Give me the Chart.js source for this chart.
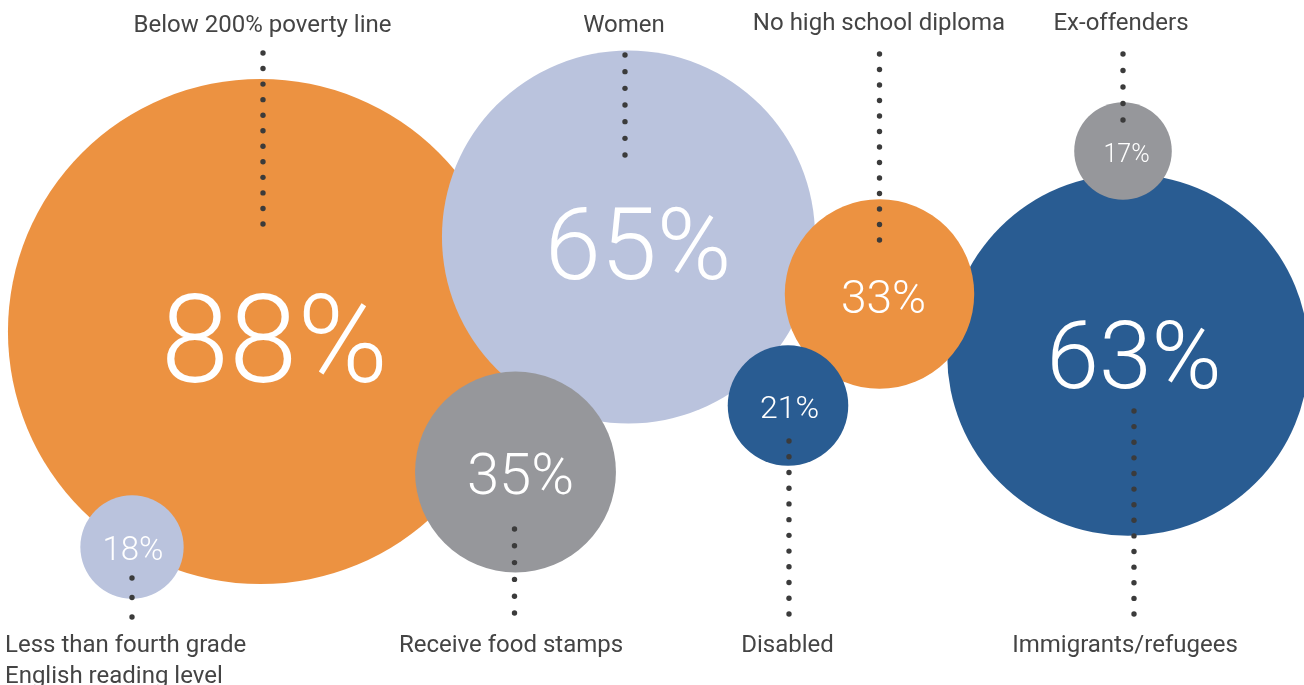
<!DOCTYPE html>
<html>
<head>
<meta charset="utf-8">
<script src="https://cdn.jsdelivr.net/npm/chart.js@4.4.1/dist/chart.umd.min.js"></script>
<style>
  html, body { margin: 0; padding: 0; background: #ffffff; }
  #wrap { width: 1304px; height: 685px; position: relative; }
</style>
</head>
<body>
<div id="wrap"><canvas id="c"></canvas></div>
<script>
// ---- data ----
const categories = [
  "Below 200% poverty line",
  "Women",
  "Receive food stamps",
  "Less than fourth grade\nEnglish reading level",
  "Immigrants/refugees",
  "No high school diploma",
  "Disabled",
  "Ex-offenders"
];
const shares = [88, 65, 35, 18, 63, 33, 21, 17];

// ---- layout (in a 1304 x 685 coordinate space) ----
const bubbleX = [260.5, 628.5, 515.5, 132, 1128, 879.5, 788, 1123];
const bubbleY = [331.5, 237, 472, 547, 355, 294, 405.5, 151];
const bubbleColors = ["#EC9241", "#BAC3DD", "#96979B", "#BAC3DD", "#295C92", "#EC9241", "#295C92", "#96979B"];
const pxPerPoint = 2.87;

const pctX = [274.5, 638, 520.5, 133, 1134, 883.5, 789.5, 1126.5];
const pctY = [382, 279, 494, 560, 388, 313, 418, 162];
const pctSize = [123, 101, 58, 33, 95, 46, 32, 25];

const nameX = [262.5, 624, 511, 5, 1125, 879, 787.5, 1121];
const nameY = [32, 32, 652, 652, 652, 30, 652, 30];
const nameAlign = ["center", "center", "center", "left", "center", "center", "center", "center"];

const leaderX = [263, 625, 514.5, 132, 1134, 879.5, 789, 1123];
const leaderTop = [53, 55, 529, 578, 411, 54, 441, 54];
const leaderBottom = [224, 155, 613, 617, 614, 240, 614, 120];
const leaderDots = [12, 7, 6, 3, 14, 13, 12, 5];

const points = shares.map((v, i) => ({ x: bubbleX[i], y: bubbleY[i], r: v * pxPerPoint }));

const overlay = {
  id: 'overlay',
  afterDatasetsDraw(chart) {
    const ctx = chart.ctx;
    const xs = chart.scales.x, ys = chart.scales.y;
    ctx.save();
    // dotted leaders
    ctx.fillStyle = '#3b3b3b';
    for (let i = 0; i < categories.length; i++) {
      const px = xs.getPixelForValue(leaderX[i]);
      const n = leaderDots[i];
      for (let k = 0; k < n; k++) {
        const yv = leaderTop[i] + (leaderBottom[i] - leaderTop[i]) * (n > 1 ? k / (n - 1) : 0);
        const py = ys.getPixelForValue(yv);
        ctx.beginPath();
        ctx.arc(px, py, 2.7, 0, Math.PI * 2);
        ctx.fill();
      }
    }
    // category names
    ctx.fillStyle = '#444444';
    ctx.font = '400 24px Roboto, "Liberation Sans", sans-serif';
    ctx.textBaseline = 'alphabetic';
    for (let i = 0; i < categories.length; i++) {
      ctx.textAlign = nameAlign[i];
      const lines = categories[i].split('\n');
      lines.forEach((ln, j) => {
        ctx.fillText(ln, xs.getPixelForValue(nameX[i]), ys.getPixelForValue(nameY[i] + j * 31));
      });
    }
    // percentages
    ctx.fillStyle = '#ffffff';
    ctx.textAlign = 'center';
    for (let i = 0; i < shares.length; i++) {
      ctx.font = '300 ' + pctSize[i] + 'px Roboto, "Liberation Sans", sans-serif';
      ctx.fillText(shares[i] + '%', xs.getPixelForValue(pctX[i]), ys.getPixelForValue(pctY[i]));
    }
    ctx.restore();
  }
};

new Chart(document.getElementById('c'), {
  type: 'bubble',
  data: {
    datasets: [{
      data: points,
      backgroundColor: bubbleColors,
      hoverBackgroundColor: bubbleColors,
      borderWidth: 0,
      hoverBorderWidth: 0,
      hoverRadius: 0,
      clip: false
    }]
  },
  options: {
    responsive: true,
    maintainAspectRatio: false,
    animation: false,
    events: [],
    layout: { padding: 0, autoPadding: false },
    plugins: { legend: { display: false }, tooltip: { enabled: false } },
    scales: {
      x: { type: 'linear', min: 0, max: 1304, display: false },
      y: { type: 'linear', min: 0, max: 685, reverse: true, display: false }
    }
  },
  plugins: [overlay]
});
</script>
</body>
</html>
